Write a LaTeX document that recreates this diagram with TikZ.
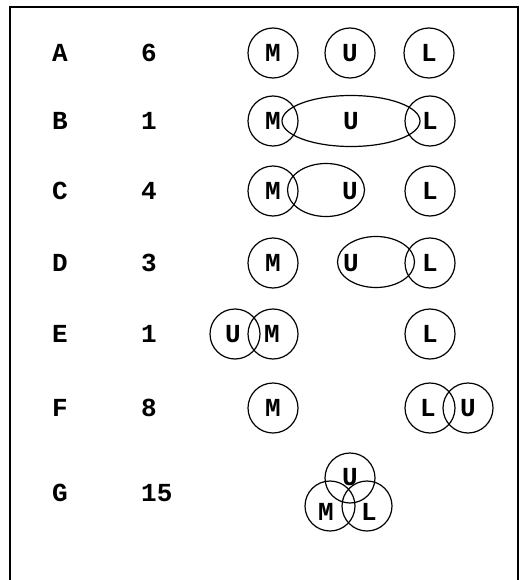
\documentclass[tikz,border=0pt]{standalone}
\usepackage{fontspec}
\setmonofont{Liberation Mono}
\usetikzlibrary{shapes.geometric}
\begin{document}
\begin{tikzpicture}[x=1pt,y=-1pt,
  txt/.style={font=\ttfamily\bfseries\fontsize{26}{26}\selectfont,inner sep=0pt},
  ring/.style={txt,circle,draw,line width=1.2pt,minimum size=50pt},
  oval/.style={ellipse,draw,line width=1.2pt,inner sep=0pt},
  lbl/.style={txt,anchor=west}]
\useasboundingbox (0,0) rectangle (519,580);
\coordinate (bl) at (10,580);
\coordinate (tl) at (10,7);
\coordinate (tr) at (518,7);
\coordinate (br) at (518,580);
\draw[line width=1.2pt] (bl) -- (tl) -- (tr) -- (br);
% left labels
\node[lbl] (la) at (52,53) {A};  \node[lbl] (na) at (141,53) {6};
\node[lbl] (lb) at (52,121) {B}; \node[lbl] (nb) at (141,121) {1};
\node[lbl] (lc) at (52,191) {C}; \node[lbl] (nc) at (141,191) {4};
\node[lbl] (ld) at (52,263) {D}; \node[lbl] (nd) at (141,263) {3};
\node[lbl] (le) at (52,334) {E}; \node[lbl] (ne) at (141,334) {1};
\node[lbl] (lf) at (52,408) {F}; \node[lbl] (nf) at (141,408) {8};
\node[lbl] (lg) at (52,493) {G}; \node[lbl] (ng) at (141,493) {15};
% row A
\node[ring] (aM) at (273,53) {M};
\node[ring] (aU) at (350,53) {U};
\node[ring] (aL) at (429,53) {L};
% row B
\node[ring] (bM) at (273,121) {M};
\node[oval,minimum width=138pt,minimum height=51pt] (bU) at (351,121) {};
\node[txt] (bUt) at (351,121) {U};
\node[ring] (bL) at (430,121) {L};
% row C
\node[ring] (cM) at (273,191) {M};
\node[oval,minimum width=77pt,minimum height=53pt] (cU) at (326,190) {};
\node[txt] (cUt) at (350,191) {U};
\node[ring] (cL) at (430,191) {L};
% row D
\node[ring] (dM) at (273,263) {M};
\node[oval,minimum width=77pt,minimum height=51pt] (dU) at (376,262) {};
\node[txt] (dUt) at (351,263) {U};
\node[ring] (dL) at (430,263) {L};
% row E
\node[ring] (eU) at (235,334) {};
\node[txt] (eUt) at (233,334) {U};
\node[ring] (eM) at (273,334) {};
\node[txt] (eMt) at (272,334) {M};
\node[ring] (eL) at (430,334) {L};
% row F
\node[ring] (fM) at (273,408) {M};
\node[ring] (fL) at (430,408) {};
\node[txt] (fLt) at (428,408) {L};
\node[ring] (fU) at (468,408) {U};
% row G
\node[ring] (gU) at (350,478) {};
\node[txt] (gUt) at (350,477) {U};
\node[ring] (gM) at (330,506) {};
\node[txt] (gMt) at (326,512) {M};
\node[ring] (gL) at (367,506) {};
\node[txt] (gLt) at (369,512) {L};
\end{tikzpicture}
\end{document}
